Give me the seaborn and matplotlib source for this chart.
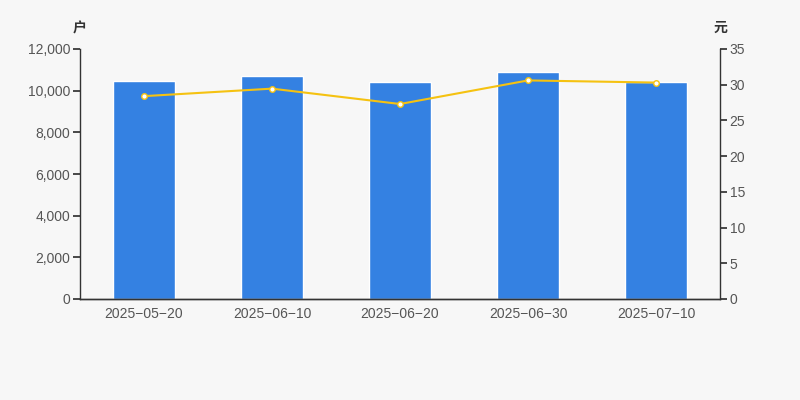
import numpy as np
import pandas as pd
import seaborn as sns
import matplotlib.pyplot as plt
from matplotlib.ticker import FuncFormatter

dates = ['2025-05-20', '2025-06-10', '2025-06-20', '2025-06-30', '2025-07-10']
holders = [10480, 10700, 10440, 10920, 10400]
price = [28.4, 29.45, 27.3, 30.6, 30.3]

sns.set_theme(style='white')
plt.rcParams['font.family'] = ['Liberation Sans', 'Noto Sans CJK SC', 'DejaVu Sans']

bg = '#f7f7f7'
bar_color = '#3481e2'
line_color = '#f5c211'
axis_color = '#333333'
text_color = '#555555'

df = pd.DataFrame({'date': dates, 'holders': holders, 'price': price})

fig = plt.figure(figsize=(8, 4), dpi=100, facecolor=bg)
ax1 = fig.add_axes([0.1, 0.2525, 0.8, 0.625])
ax1.set_facecolor(bg)

sns.barplot(data=df, x='date', y='holders', color=bar_color, width=0.48,
            saturation=1, ax=ax1)
ax1.set_xlim(-0.5, len(dates) - 0.5)
ax1.set_ylim(0, 12000)
ax1.set_yticks(np.arange(0, 12001, 2000))
ax1.yaxis.set_major_formatter(FuncFormatter(lambda v, p: f'{int(v):,}'))
ax1.set_xlabel('')
ax1.set_ylabel('')

ax2 = ax1.twinx()
sns.lineplot(x=np.arange(len(dates)), y=price, color=line_color, linewidth=1.5,
             marker='o', markersize=4, markerfacecolor='white',
             markeredgecolor=line_color, markeredgewidth=1, ax=ax2)
ax2.set_ylim(0, 35)
ax2.set_yticks(np.arange(0, 36, 5))
ax2.set_xlim(-0.5, len(dates) - 0.5)

# category ticks sit between the bars
ax1.set_xticks(np.arange(len(dates)))
ax1.set_xticklabels([d.replace('-', '\u2212') for d in dates])
ax1.set_xticks(np.arange(-0.5, len(dates), 1), minor=True)
ax1.tick_params(axis='x', which='major', length=0, pad=6, colors=text_color, labelsize=10)
ax1.tick_params(axis='x', which='minor', length=5, color=axis_color, direction='out')

for ax in (ax1, ax2):
    ax.spines['top'].set_visible(False)
    ax.spines['left'].set_visible(ax is ax1)
    ax.spines['right'].set_visible(ax is ax2)
    for side in ('bottom', 'left', 'right'):
        ax.spines[side].set_color(axis_color)
        ax.spines[side].set_linewidth(1)
    ax.grid(False)

ax1.tick_params(axis='y', length=5, color=axis_color, direction='out',
                colors=text_color, labelsize=10, left=True, pad=2)
ax2.tick_params(axis='y', length=5, color=axis_color, direction='out',
                colors=text_color, labelsize=10, right=True, pad=2)
ax2.set_ylabel('')

fig.text(0.1, 0.93, '户', ha='center', va='center', fontsize=10,
         color='#333333', fontweight='bold')
fig.text(0.9, 0.93, '元', ha='center', va='center', fontsize=10,
         color='#333333', fontweight='bold')

fig.savefig('out.png', dpi=100, facecolor=bg)
